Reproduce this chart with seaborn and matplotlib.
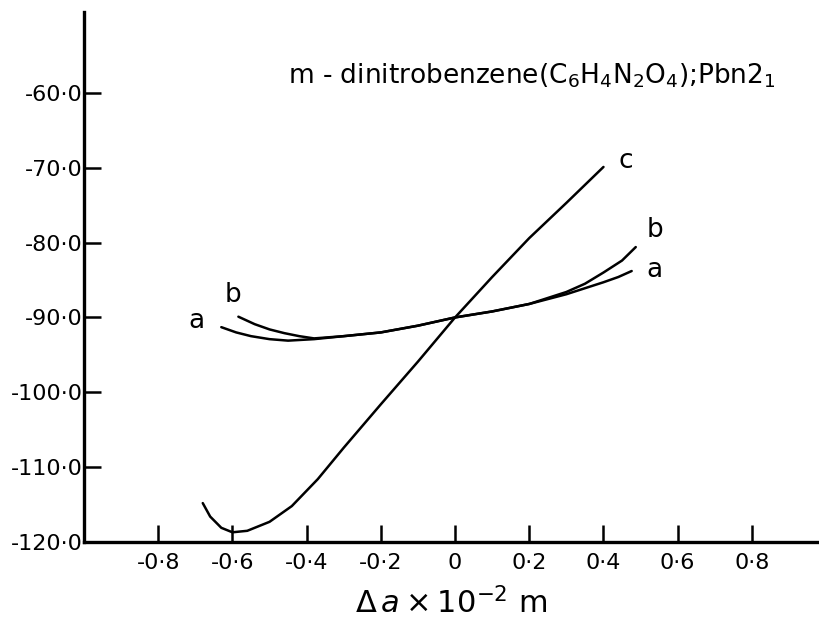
import pandas as pd
import matplotlib
matplotlib.use("Agg")
import matplotlib.pyplot as plt
import seaborn as sns

# values
a_x = [-0.63, -0.59, -0.55, -0.5, -0.45, -0.38, -0.3, -0.2, -0.1, 0.0, 0.1, 0.2, 0.3, 0.35, 0.4, 0.44, 0.476]
a_y = [-91.3, -92.0, -92.5, -92.9, -93.1, -92.9, -92.5, -92.0, -91.1, -90.0, -89.2, -88.2, -86.9, -86.1, -85.3, -84.6, -83.8]

b_x = [-0.584, -0.54, -0.5, -0.46, -0.42, -0.38, -0.3, -0.2, -0.1, 0.0, 0.1, 0.2, 0.3, 0.35, 0.4, 0.45, 0.487]
b_y = [-89.9, -90.9, -91.6, -92.1, -92.5, -92.8, -92.5, -92.0, -91.1, -90.0, -89.2, -88.2, -86.6, -85.5, -84.0, -82.4, -80.6]

c_x = [-0.68, -0.66, -0.63, -0.6, -0.56, -0.5, -0.44, -0.37, -0.3, -0.2, -0.1, 0.0, 0.1, 0.2, 0.3, 0.4]
c_y = [-114.8, -116.6, -118.1, -118.7, -118.5, -117.3, -115.2, -111.6, -107.4, -101.6, -95.9, -90.0, -84.6, -79.4, -74.7, -69.9]

x_ticks = [-0.8, -0.6, -0.4, -0.2, 0.0, 0.2, 0.4, 0.6, 0.8]
x_labels = ["-0·8", "-0·6", "-0·4", "-0·2", "0", "0·2", "0·4", "0·6", "0·8"]
y_ticks = [-60, -70, -80, -90, -100, -110, -120]
y_labels = ["-60·0", "-70·0", "-80·0", "-90·0", "-100·0", "-110·0", "-120·0"]

df = pd.concat([
    pd.DataFrame({"x": a_x, "y": a_y, "curve": "a"}),
    pd.DataFrame({"x": b_x, "y": b_y, "curve": "b"}),
    pd.DataFrame({"x": c_x, "y": c_y, "curve": "c"}),
])

sns.set_style("ticks")
plt.rcParams["font.family"] = ["DejaVu Sans"]
plt.rcParams["text.color"] = "black"
plt.rcParams["xtick.color"] = "black"
plt.rcParams["ytick.color"] = "black"
plt.rcParams["axes.labelcolor"] = "black"

fig = plt.figure(figsize=(8.19, 6.31), dpi=100)
ax = fig.add_axes([0.1026, 0.141, 0.897, 0.84])

sns.lineplot(data=df, x="x", y="y", units="curve", estimator=None,
             color="black", lw=1.8, sort=False, ax=ax)

ax.set_xlim(-1.0, 0.98)
ax.set_ylim(-120, -49.2)
ax.set_xticks(x_ticks)
ax.set_xticklabels(x_labels, fontsize=16)
ax.set_yticks(y_ticks)
ax.set_yticklabels(y_labels, fontsize=16)
ax.tick_params(direction="in", length=12, width=1.8, color="black", pad=1)
ax.tick_params(axis="x", pad=8)

sns.despine(ax=ax)
for s in ["left", "bottom"]:
    ax.spines[s].set_linewidth(2.4)
    ax.spines[s].set_color("black")

ax.set_xlabel(r"$\Delta\,\mathit{a}\times10^{-2}$ m", fontsize=22, labelpad=10)
ax.set_ylabel("")

ax.text(0.44, -69.1, "c", fontsize=19, ha="left", va="center")
ax.text(0.515, -78.3, "b", fontsize=19, ha="left", va="center")
ax.text(0.515, -83.6, "a", fontsize=19, ha="left", va="center")
ax.text(-0.62, -87.0, "b", fontsize=19, ha="left", va="center")
ax.text(-0.72, -90.5, "a", fontsize=19, ha="left", va="center")

ax.text(0.278, 0.88, r"m - dinitrobenzene(C$_6$H$_4$N$_2$O$_4$);Pbn2$_1$",
        transform=ax.transAxes, fontsize=19, ha="left", va="center")

fig.savefig("out.png", dpi=100)
